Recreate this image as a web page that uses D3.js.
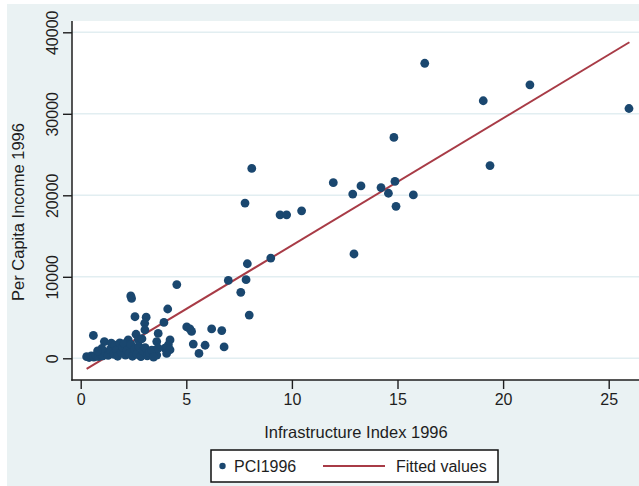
<!DOCTYPE html>
<html>
<head>
<meta charset="utf-8">
<script src="https://cdn.jsdelivr.net/npm/d3@7"></script>
<style>
  html, body { margin: 0; padding: 0; background: #ffffff; }
  svg { display: block; }
  text { font-family: "Liberation Sans", Arial, Helvetica, sans-serif; fill: #1e1e1e; }
</style>
</head>
<body>
<svg id="chart" width="639" height="486"></svg>
<script>
// Infrastructure Index 1996 (x) vs Per Capita Income 1996 (y)
const infraIndex = [
  16.29, 21.27, 19.06, 25.96, 14.83, 19.38, 8.10, 7.78, 9.44, 9.75,
  10.46, 11.96, 13.27, 12.88, 14.22, 14.88, 14.57, 14.93, 15.75, 12.94,
  9.00, 7.89, 6.99, 7.83, 7.58, 7.98, 4.55, 2.37, 2.41, 4.12,
  2.57, 3.10, 3.03, 3.94, 5.02, 5.17, 5.25, 6.20, 6.68, 3.67,
  2.62, 0.60, 4.23, 5.33, 5.89, 6.79, 5.60, 4.15, 3.99, 4.23,
  3.52, 3.60, 4.07, 3.04, 2.25, 2.73,
  0.28, 0.40, 0.50, 0.62, 0.72, 0.85, 0.95, 1.05, 1.12, 1.20,
  1.30, 1.40, 1.45, 1.55, 1.62, 1.70, 1.75, 1.85, 1.92, 2.00,
  2.06, 2.12, 2.20, 2.30, 2.38, 2.45, 2.55, 2.65, 2.75, 2.85,
  2.95, 3.05, 3.15, 3.25, 3.36, 3.45, 3.60, 3.67, 2.90, 1.00, 0.80
];
const pci1996 = [
  36200, 33550, 31600, 30650, 27100, 23650, 23300, 19050, 17600, 17600,
  18100, 21550, 21150, 20150, 20950, 21700, 20250, 18650, 20050, 12800,
  12300, 11600, 9550, 9650, 8100, 5300, 9050, 7650, 7350, 6050,
  5100, 5050, 4300, 4400, 3850, 3600, 3300, 3600, 3400, 3050,
  2950, 2800, 2250, 1750, 1600, 1400, 600, 1650, 1250, 1050,
  1000, 400, 600, 3500, 2250, 2300,
  200, 100, 300, 150, 350, 200, 500, 300, 2050, 700,
  350, 1100, 1850, 500, 1600, 1000, 250, 1900, 700, 1350,
  1800, 400, 1000, 600, 1700, 250, 1100, 500, 1500, 200,
  900, 1300, 300, 700, 1000, 150, 2050, 1250, 2400, 1200, 900
];

// Fitted values line endpoints (over the observed x range)
const fitX = [0.28, 25.98];
const fitY = [-1310, 38780];

const xTicks = [0, 5, 10, 15, 20, 25];
const yTicks = [0, 10000, 20000, 30000, 40000];
const seriesNames = ["PCI1996", "Fitted values"];

const navy = "#1a476f";
const maroon = "#a83b46";
const regionFill = "#eaf2f3";
const gridColor = "#e2eef1";
const ink = "#1e1e1e";

const svg = d3.select("#chart");
const W = 639, H = 486;

// Graph region background
svg.append("rect").attr("x", 7).attr("y", 4).attr("width", W - 7).attr("height", H - 4)
  .attr("fill", regionFill);

const plot = { left: 72, top: 21, right: 639, bottom: 380 };

// Plot region
svg.append("rect").attr("x", plot.left).attr("y", plot.top)
  .attr("width", plot.right - plot.left).attr("height", plot.bottom - plot.top)
  .attr("fill", "#ffffff");

const x = d3.scaleLinear().domain([0, 25]).range([80.7, 608.7]);
const y = d3.scaleLinear().domain([0, 40000]).range([358.3, 32.3]);

// Gridlines
svg.append("g").selectAll("line").data(yTicks).join("line")
  .attr("x1", plot.left).attr("x2", plot.right)
  .attr("y1", d => y(d)).attr("y2", d => y(d))
  .attr("stroke", gridColor).attr("stroke-width", 1.6);

// Fitted line
svg.append("line")
  .attr("x1", x(fitX[0])).attr("y1", y(fitY[0]))
  .attr("x2", x(fitX[1])).attr("y2", y(fitY[1]))
  .attr("stroke", maroon).attr("stroke-width", 2);

// Scatter points
const pts = infraIndex.map((v, i) => ({ x: v, y: pci1996[i] }));
svg.append("g").selectAll("circle").data(pts).join("circle")
  .attr("cx", d => x(d.x)).attr("cy", d => y(d.y)).attr("r", 4.4)
  .attr("fill", navy);

// Y axis: vertical tick labels
const yAxis = d3.axisLeft(y).tickValues(yTicks).tickSize(9).tickFormat(d3.format("d"));
const gy = svg.append("g").attr("transform", `translate(${plot.left},0)`).call(yAxis);
gy.select(".domain").remove();
gy.selectAll(".tick line").attr("stroke", ink).attr("stroke-width", 1.4);
gy.selectAll(".tick text")
  .attr("font-size", 16).attr("text-anchor", "middle")
  .attr("x", 0).attr("y", 0)
  .attr("transform", "translate(-20,0) rotate(-90)").attr("dy", "0.36em");

// X axis
const xAxis = d3.axisBottom(x).tickValues(xTicks).tickSize(9).tickFormat(d3.format("d"));
const gx = svg.append("g").attr("transform", `translate(0,${plot.bottom})`).call(xAxis);
gx.select(".domain").remove();
gx.selectAll(".tick line").attr("stroke", ink).attr("stroke-width", 1.4);
gx.selectAll(".tick text").attr("font-size", 16).attr("y", 13.5).attr("dy", "0.71em");

// Axis lines
svg.append("line").attr("x1", plot.left).attr("x2", plot.left)
  .attr("y1", plot.top).attr("y2", plot.bottom + 0.7)
  .attr("stroke", ink).attr("stroke-width", 1.5);
svg.append("line").attr("x1", plot.left - 0.7).attr("x2", plot.right)
  .attr("y1", plot.bottom).attr("y2", plot.bottom)
  .attr("stroke", ink).attr("stroke-width", 1.5);

// Axis titles
svg.append("text").attr("transform", "translate(24,212) rotate(-90)")
  .attr("text-anchor", "middle").attr("font-size", 16.5).text("Per Capita Income 1996");
svg.append("text").attr("x", 356).attr("y", 438)
  .attr("text-anchor", "middle").attr("font-size", 16.5).text("Infrastructure Index 1996");

// Legend
const lg = svg.append("g");
lg.append("rect").attr("x", 211).attr("y", 450).attr("width", 287).attr("height", 32)
  .attr("fill", "#ffffff").attr("stroke", "#111").attr("stroke-width", 1.5);
lg.append("circle").attr("cx", 222.5).attr("cy", 466).attr("r", 3.2).attr("fill", navy);
lg.append("text").attr("x", 234).attr("y", 471.5).attr("font-size", 16).text(seriesNames[0]);
lg.append("line").attr("x1", 323).attr("x2", 385).attr("y1", 466).attr("y2", 466)
  .attr("stroke", maroon).attr("stroke-width", 2);
lg.append("text").attr("x", 396).attr("y", 471.5).attr("font-size", 16).text(seriesNames[1]);
</script>
</body>
</html>
